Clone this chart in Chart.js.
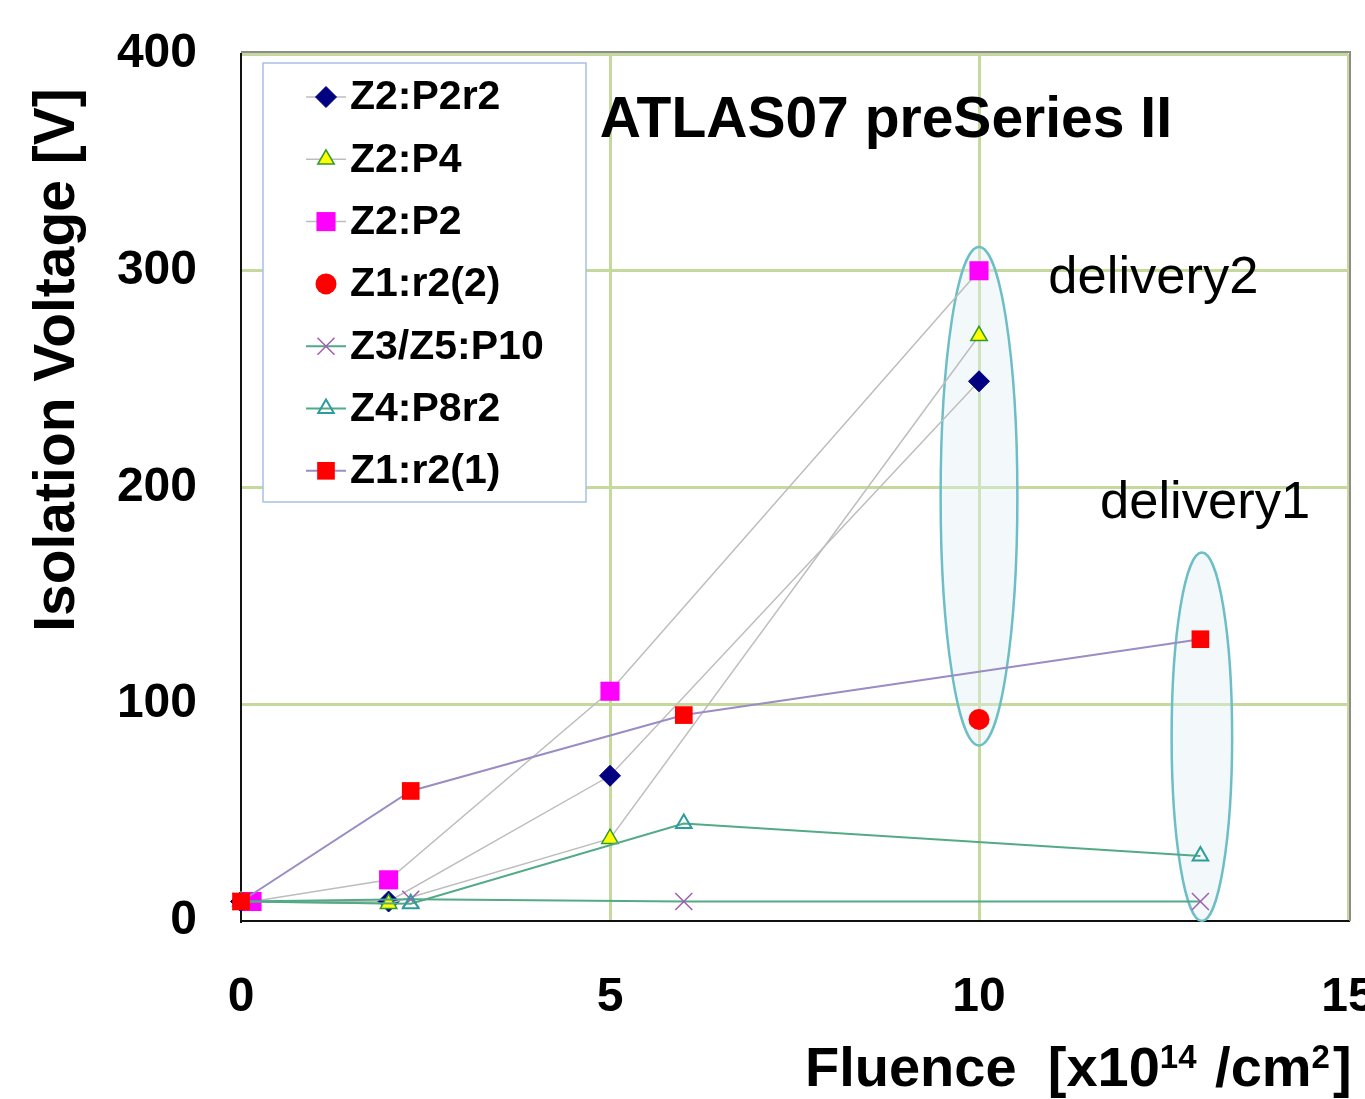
<!DOCTYPE html>
<html>
<head>
<meta charset="utf-8">
<script src="https://cdn.jsdelivr.net/npm/chart.js@4.4.0/dist/chart.umd.min.js"></script>
<style>
  html, body { margin: 0; padding: 0; background: #fff; }
  #wrap { width: 1365px; height: 1099px; }
</style>
</head>
<body>
<div id="wrap"><canvas id="myChart" width="1365" height="1099"></canvas></div>
<script>
// values: fluence [x1e14/cm2] vs isolation voltage [V]
const seriesNames = ["Z2:P2r2", "Z2:P4", "Z2:P2", "Z1:r2(2)", "Z3/Z5:P10", "Z4:P8r2", "Z1:r2(1)"];

const fluenceP2r2 = [0, 2, 5, 10];
const voltP2r2 = [9, 9, 67, 249];
const fluenceP4 = [0, 2, 5, 10];
const voltP4 = [9, 8, 38, 270];
const fluenceP2 = [0.15, 2, 5, 10];
const voltP2 = [9, 19, 106, 300];
const fluenceR2b = [10];
const voltR2b = [93];
const fluenceP10 = [0, 2.3, 6, 13];
const voltP10 = [9, 10, 9, 9];
const fluenceP8r2 = [0, 2.3, 6, 13];
const voltP8r2 = [9, 8, 45, 30];
const fluenceR2a = [0, 2.3, 6, 13];
const voltR2a = [9, 60, 95, 130];

const xTicks = [0, 5, 10, 15];
const yTicks = [0, 100, 200, 300, 400];

// delivery groups circled on the plot (centre and half-axes in data units)
const ellipses = [
  { x: 10, y: 196, rx: 0.52, ry: 115 },
  { x: 13.02, y: 85, rx: 0.41, ry: 85 },
];

const FONT = "'Liberation Sans', Arial, sans-serif";
const greyLine = "#bdbdbd";
const purpleLine = "#9b8cc4";
const greenLine = "#52aa86";

const toPoints = (xs, ys) => xs.map((x, i) => ({ x: x, y: ys[i] }));

const data = {
  datasets: [
    {
      label: seriesNames[0],
      data: toPoints(fluenceP2r2, voltP2r2),
      showLine: true,
      borderColor: greyLine,
      borderWidth: 1.5,
      pointStyle: "rectRot",
      pointRadius: 10.5,
      pointBackgroundColor: "#000080",
      pointBorderColor: "#000080",
      pointBorderWidth: 1,
    },
    {
      label: seriesNames[1],
      data: toPoints(fluenceP4, voltP4),
      showLine: true,
      borderColor: greyLine,
      borderWidth: 1.5,
      pointStyle: "triangle",
      pointRadius: 9.5,
      pointBackgroundColor: "#ffff00",
      pointBorderColor: "#2e9a2e",
      pointBorderWidth: 1.5,
    },
    {
      label: seriesNames[2],
      data: toPoints(fluenceP2, voltP2),
      showLine: true,
      borderColor: greyLine,
      borderWidth: 1.5,
      pointStyle: "rect",
      pointRadius: 13.5,
      pointBackgroundColor: "#ff00ff",
      pointBorderColor: "#ff00ff",
      pointBorderWidth: 0,
    },
    {
      label: seriesNames[3],
      data: toPoints(fluenceR2b, voltR2b),
      showLine: false,
      borderColor: "#ff0000",
      borderWidth: 0,
      pointStyle: "circle",
      pointRadius: 10.5,
      pointBackgroundColor: "#ff0000",
      pointBorderColor: "#ff0000",
      pointBorderWidth: 0,
    },
    {
      label: seriesNames[4],
      data: toPoints(fluenceP10, voltP10),
      showLine: true,
      borderColor: greenLine,
      borderWidth: 2,
      pointStyle: "crossRot",
      pointRadius: 12,
      pointBackgroundColor: "#a25cb0",
      pointBorderColor: "#a25cb0",
      pointBorderWidth: 1.5,
    },
    {
      label: seriesNames[5],
      data: toPoints(fluenceP8r2, voltP8r2),
      showLine: true,
      borderColor: greenLine,
      borderWidth: 2,
      pointStyle: "triangle",
      pointRadius: 9,
      pointBackgroundColor: "rgba(0,0,0,0)",
      pointBorderColor: "#2d9c9c",
      pointBorderWidth: 2,
    },
    {
      label: seriesNames[6],
      data: toPoints(fluenceR2a, voltR2a),
      showLine: true,
      borderColor: purpleLine,
      borderWidth: 2,
      pointStyle: "rect",
      pointRadius: 12.5,
      pointBackgroundColor: "#ff0000",
      pointBorderColor: "#ff0000",
      pointBorderWidth: 0,
    },
  ],
};

// later series sit on top, like the original
data.datasets.forEach((ds, i) => {
  ds.order = data.datasets.length - i;
  ds.clip = false;
  ds.pointHoverRadius = ds.pointRadius;
});

const drawMarker = (ctx, ds, x, y) => {
  ctx.fillStyle = ds.pointBackgroundColor;
  ctx.strokeStyle = ds.pointBorderColor;
  ctx.lineWidth = ds.pointBorderWidth;
  Chart.helpers.drawPoint(ctx, {
    pointStyle: ds.pointStyle,
    radius: ds.pointRadius,
    rotation: 0,
    borderWidth: ds.pointBorderWidth,
  }, x, y);
};

const extras = {
  id: "extras",
  beforeDatasetsDraw(chart) {
    const { ctx, scales: { x, y } } = chart;
    ctx.save();
    ellipses.forEach((e) => {
      const cx = x.getPixelForValue(e.x);
      const cy = y.getPixelForValue(e.y);
      const rx = x.getPixelForValue(e.x + e.rx) - cx;
      const ry = cy - y.getPixelForValue(e.y + e.ry);
      ctx.beginPath();
      ctx.ellipse(cx, cy, rx, ry, 0, 0, Math.PI * 2);
      ctx.fillStyle = "rgba(226,241,246,0.4)";
      ctx.fill();
      ctx.lineWidth = 2.5;
      ctx.strokeStyle = "#6dbec6";
      ctx.stroke();
    });
    ctx.restore();
  },
  afterDatasetsDraw(chart) {
    // legend box inside the plot
    const { ctx, chartArea: a } = chart;
    const bx = a.left + 22, by = a.top + 9, bw = 323, bh = 439;
    ctx.save();
    ctx.fillStyle = "#fff";
    ctx.fillRect(bx, by, bw, bh);
    ctx.strokeStyle = "#a9bfe6";
    ctx.lineWidth = 1.5;
    ctx.strokeRect(bx, by, bw, bh);
    chart.data.datasets.forEach((ds, i) => {
      const cy = by + 34 + i * 62.3;
      if (ds.showLine) {
        ctx.beginPath();
        ctx.moveTo(bx + 43, cy);
        ctx.lineTo(bx + 83, cy);
        ctx.strokeStyle = ds.borderColor;
        ctx.lineWidth = ds.borderWidth;
        ctx.stroke();
      }
      drawMarker(ctx, ds, bx + 63, cy);
      ctx.fillStyle = "#000";
      ctx.font = "bold 41px " + FONT;
      ctx.textBaseline = "middle";
      ctx.textAlign = "left";
      ctx.fillText(ds.label, bx + 87, cy + 1);
    });
    ctx.restore();
  },
  afterDraw(chart) {
    const { ctx, chartArea: a, scales: { x, y } } = chart;
    ctx.save();
    // grey frame on top and right
    ctx.strokeStyle = "#8c8c8c";
    ctx.lineWidth = 2;
    ctx.beginPath();
    ctx.moveTo(a.left, a.top - 2);
    ctx.lineTo(a.right + 2, a.top - 2);
    ctx.lineTo(a.right + 2, a.bottom);
    ctx.stroke();

    ctx.fillStyle = "#000";
    ctx.textAlign = "left";
    ctx.textBaseline = "alphabetic";
    ctx.font = "bold 57px " + FONT;
    ctx.fillText("ATLAS07 preSeries II", x.getPixelForValue(4.86), y.getPixelForValue(361.7));
    ctx.font = "52.5px " + FONT;
    ctx.fillText("delivery2", x.getPixelForValue(10.94), y.getPixelForValue(289.7));
    ctx.fillText("delivery1", x.getPixelForValue(11.64), y.getPixelForValue(185.9));

    // y axis title
    ctx.save();
    ctx.translate(74, 360);
    ctx.rotate(-Math.PI / 2);
    ctx.textAlign = "center";
    ctx.font = "bold 57px " + FONT;
    ctx.fillText("Isolation Voltage [V]", 0, 0);
    ctx.restore();

    // x axis title with superscripts
    const parts = [
      { t: "Fluence  [x10", sup: false },
      { t: "14", sup: true },
      { t: " /cm", sup: false },
      { t: "2", sup: true },
      { t: "]", sup: false },
    ];
    let px = 805;
    parts.forEach((p) => {
      ctx.font = p.sup ? "bold 33px " + FONT : "bold 56px " + FONT;
      ctx.fillText(p.t, px, p.sup ? 1068 : 1086);
      px += ctx.measureText(p.t).width + (p.sup ? 3 : 0);
    });
    ctx.restore();
  },
};

const config = {
  type: "scatter",
  data,
  options: {
    responsive: false,
    animation: false,
    layout: { padding: { top: 54, right: 17, left: 0, bottom: 0 } },
    plugins: {
      legend: { display: false },
      tooltip: { enabled: false },
    },
    scales: {
      x: {
        type: "linear",
        min: 0,
        max: 15,
        afterBuildTicks: (s) => { s.ticks = xTicks.map((v) => ({ value: v })); },
        afterFit: (s) => { s.height = 178; s.paddingLeft = 0; s.paddingRight = 0; },
        ticks: {
          color: "#000",
          padding: 53,
          maxRotation: 0,
          autoSkip: false,
          font: { family: FONT, size: 48, weight: "bold", lineHeight: 1 },
        },
        grid: {
          drawTicks: false,
          lineWidth: 3,
          color: (c) => (c.tick && c.tick.value === 0 ? "rgba(0,0,0,0)" : "#c6d99c"),
        },
        border: { color: "#111", width: 2 },
      },
      y: {
        type: "linear",
        min: 0,
        max: 400,
        afterBuildTicks: (s) => { s.ticks = yTicks.map((v) => ({ value: v })); },
        afterFit: (s) => { s.width = 241; s.paddingTop = 0; s.paddingBottom = 0; },
        ticks: {
          color: "#000",
          padding: 44,
          autoSkip: false,
          font: { family: FONT, size: 48, weight: "bold", lineHeight: 1 },
        },
        grid: {
          drawTicks: false,
          lineWidth: 3,
          color: (c) => (c.tick && c.tick.value === 0 ? "rgba(0,0,0,0)" : "#c6d99c"),
        },
        border: { color: "#111", width: 2 },
      },
    },
  },
  plugins: [extras],
};

const myChart = new Chart(document.getElementById("myChart"), config);
</script>
</body>
</html>
